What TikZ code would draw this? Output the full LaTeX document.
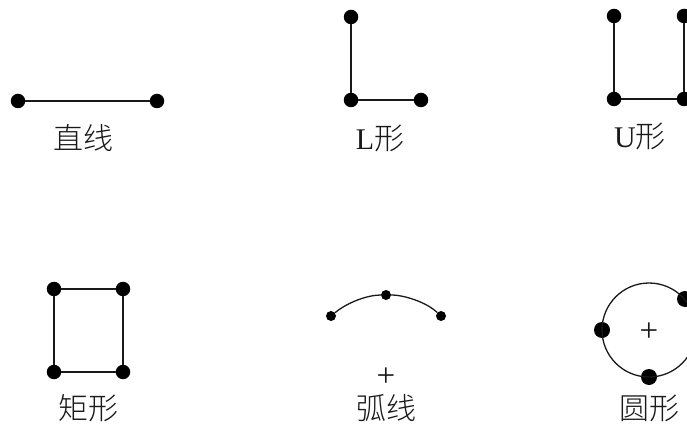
\documentclass[tikz,border=0pt]{standalone}
\usepackage{fontspec}
\newfontfamily\cjk{Noto Sans CJK SC Light}
\newfontfamily\lat{Liberation Serif}
\definecolor{ink}{gray}{0.1}
\tikzset{
 pt/.style={circle,fill=black,inner sep=0pt,minimum size=#1},
 ln/.style={draw=ink,line width=1.3pt},
 lab/.style={font=\fontsize{30}{31}\selectfont,inner sep=0pt,text=ink,anchor=center},
 crs/.style={font=\lat\fontsize{33}{33}\selectfont,inner sep=0pt,text=ink}
}
\begin{document}
\begin{tikzpicture}[x=1pt,y=-1pt]
\useasboundingbox (0,0) rectangle (687,427);
\clip (0,0) rectangle (687,427);
% straight
\node[pt=14.5pt] (a1) at (18,101) {};
\node[pt=14.5pt] (a2) at (157,101) {};
\draw[ln] (a1)--(a2);
\node[lab] (la) at (83,138) {\cjk 直线};
% L
\node[pt=14.5pt] (b1) at (351,17) {};
\node[pt=14.5pt] (b2) at (351,100) {};
\node[pt=14.5pt] (b3) at (421,100) {};
\draw[ln] (b1)--(b2)--(b3);
\node[lab] (lb) at (380,138) {\lat L\cjk 形};
% U
\node[pt=14.5pt] (c1) at (614,16) {};
\node[pt=14.5pt] (c2) at (614,99) {};
\node[pt=14.5pt] (c3) at (684,99) {};
\node[pt=14.5pt] (c4) at (684,16) {};
\draw[ln] (c1)--(c2)--(c3)--(c4);
\node[lab] (lc) at (640,136) {\lat U\cjk 形};
% rect
\node[pt=14.5pt] (d1) at (54,289) {};
\node[pt=14.5pt] (d2) at (123,289) {};
\node[pt=14.5pt] (d3) at (123,372) {};
\node[pt=14.5pt] (d4) at (54,372) {};
\draw[ln] (d1)--(d2)--(d3)--(d4)--(d1);
\node[lab] (ld) at (88,408) {\cjk 矩形};
% arc
\node[pt=10pt] (e1) at (331,316) {};
\node[pt=10pt] (e2) at (386,295) {};
\node[pt=10pt] (e3) at (441,316) {};
\draw[ln] (e1) .. controls (348,302) and (368,295) .. (e2) .. controls (404,295) and (426,302) .. (e3);
\node[crs] (e4) at (386,377) {+};
\node[lab] (le) at (386,408) {\cjk 弧线};
% circle
\node[pt=16pt] (f1) at (602,330) {};
\node[pt=16pt] (f2) at (649,377) {};
\node[pt=16pt] (f3) at (685,299) {};
\draw[ln] (649,330) circle (47);
\node[crs] (f4) at (649,332) {+};
\node[lab] (lf) at (649,408) {\cjk 圆形};
\end{tikzpicture}
\end{document}
